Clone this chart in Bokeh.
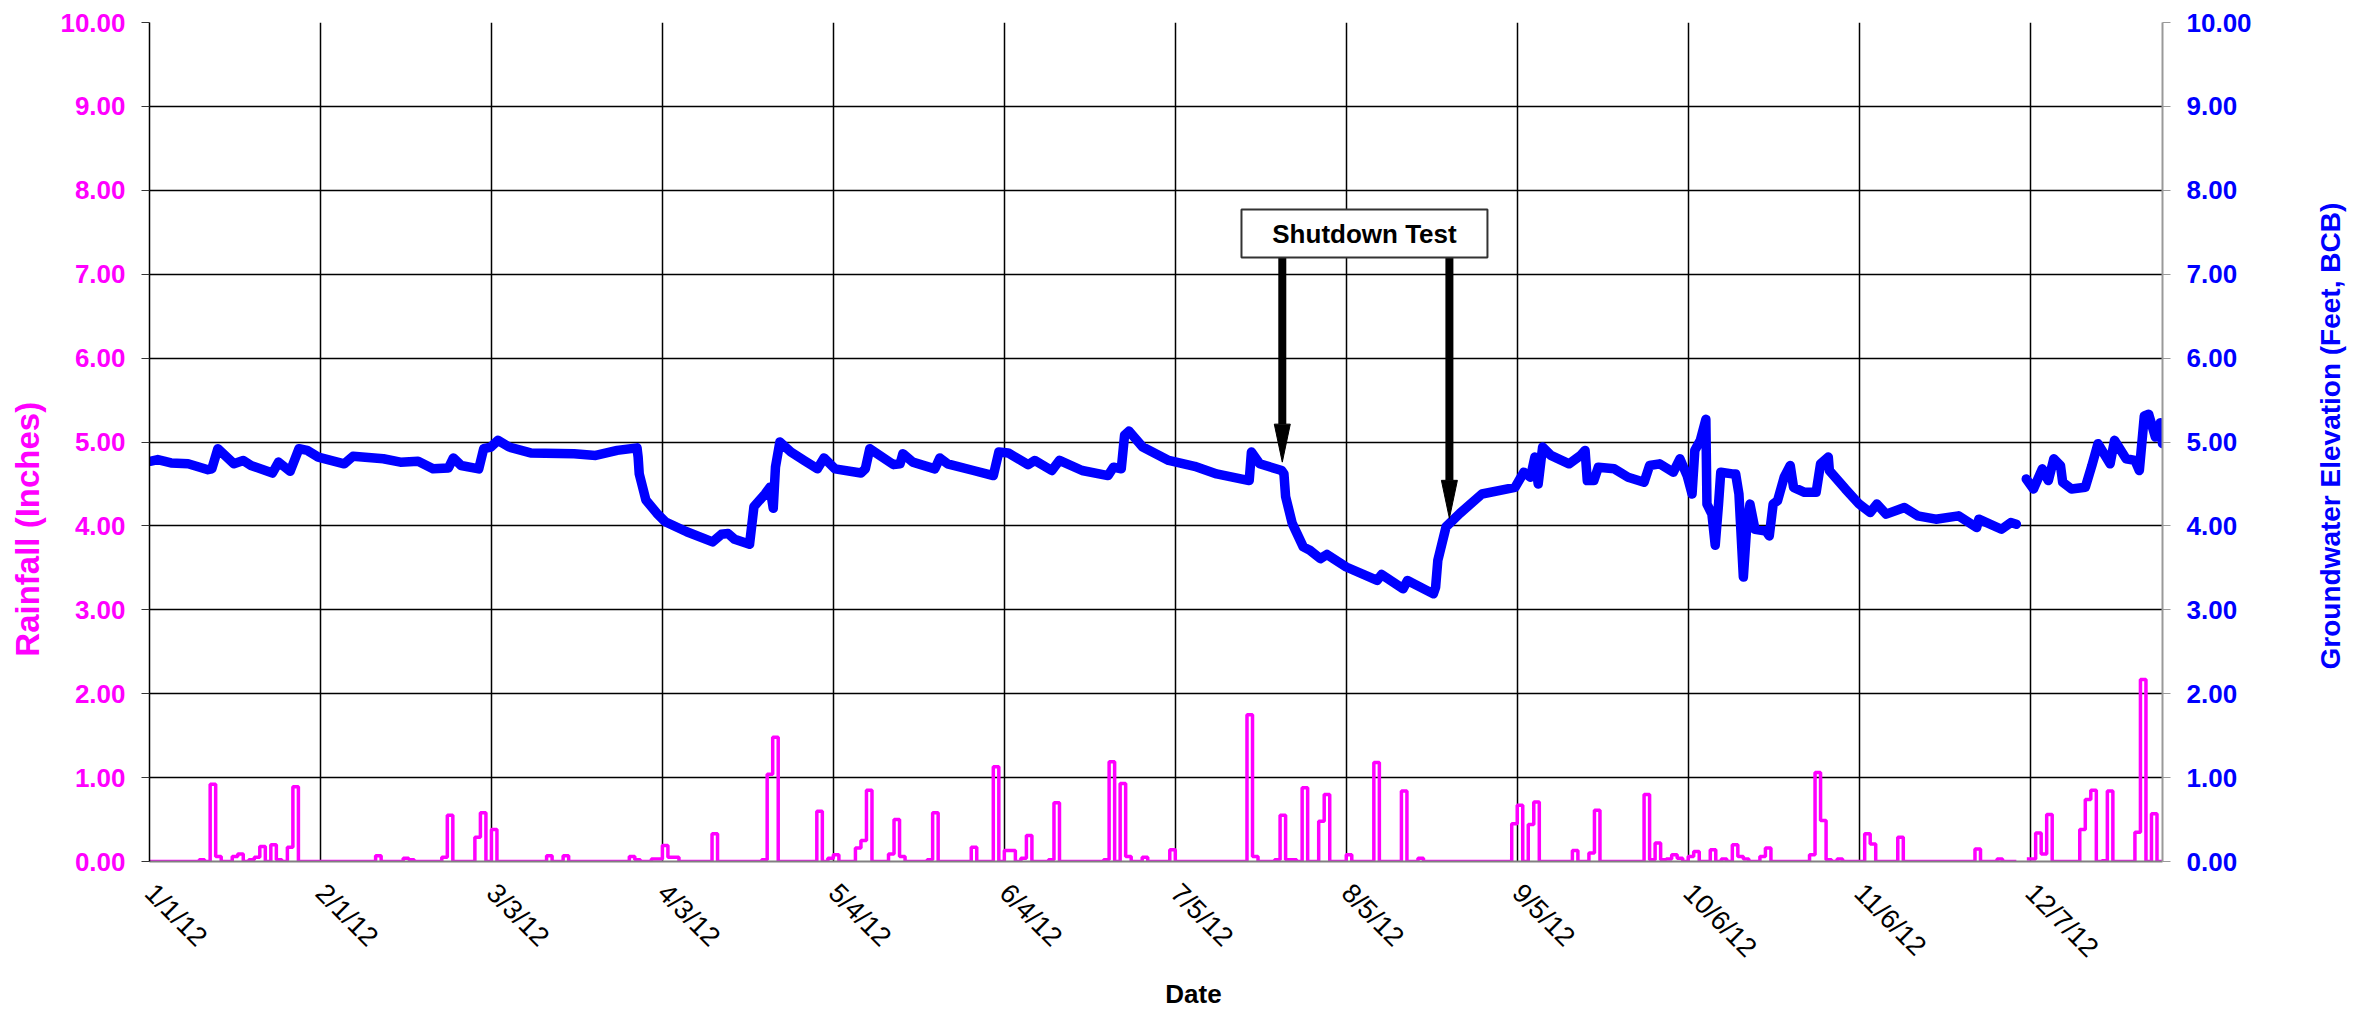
import math
from bokeh.plotting import figure
from bokeh.layouts import row, column
from bokeh.models import (Range1d, LinearAxis, FixedTicker, PrintfTickFormatter,
                          BoxAnnotation, Label)
from bokeh.embed import file_html
from bokeh.resources import INLINE

FONT = "Liberation Sans"

# ---- x axis ticks (days since 1/1/12) ----
tick_days = [0, 31, 62, 93, 124, 155, 186, 217, 248, 279, 310, 341]
tick_labels = ["1/1/12", "2/1/12", "3/3/12", "4/3/12", "5/4/12", "6/4/12",
               "7/5/12", "8/5/12", "9/5/12", "10/6/12", "11/6/12", "12/7/12"]
y_ticks = [0, 1, 2, 3, 4, 5, 6, 7, 8, 9, 10]

# ---- groundwater elevation (feet, BCB) ----
gw_day = [0.1, 1.5, 3.9, 7.0, 10.6, 11.3, 12.4, 15.3, 17.0, 18.4, 22.3, 23.4, 25.5,
          27.1, 28.6, 30.6, 35.3, 36.9, 42.4, 45.5, 48.7, 51.4, 54.2, 55.1, 56.5,
          59.7, 60.6, 61.9, 63.2, 65.2, 69.1, 77.0, 80.9, 84.8, 88.4, 88.6, 88.8,
          90.0, 92.0, 93.5, 97.4, 102.1, 103.7, 104.9, 106.1, 108.8, 109.6, 111.6,
          112.5, 113.1, 113.5, 114.3, 116.3, 118.7, 121.1, 122.3, 124.3, 129.0,
          129.8, 130.6, 134.9, 136.1, 136.6, 138.4, 142.4, 143.3, 144.7, 149.4,
          153.0, 154.0, 155.7, 159.3, 160.5, 163.6, 165.0, 169.1, 173.8, 174.8,
          176.2, 176.8, 177.6, 180.1, 184.8, 189.5, 193.5, 199.4, 199.8, 201.3,
          205.3, 205.7, 206.0, 207.2, 209.2, 210.4, 212.3, 213.5, 217.0, 222.6,
          223.4, 227.3, 228.1, 232.8, 233.2, 233.6, 235.1, 237.6, 241.6, 247.6,
          249.2, 250.4, 251.2, 251.8, 252.6, 254.1, 257.4, 259.5, 260.3, 260.7,
          261.9, 262.7, 265.6, 268.1, 271.0, 272.0, 273.8, 276.3, 277.5, 278.8,
          279.7, 280.2, 281.2, 282.2, 282.4, 283.3, 283.9, 284.5, 284.9, 287.0,
          287.6, 288.2, 289.0, 289.6, 290.2, 291.1, 293.1, 293.7, 294.4, 295.2,
          296.4, 297.5, 298.1, 300.1, 302.2, 303.0, 304.4, 304.6, 307.5, 310.0,
          312.0, 313.2, 314.9, 318.2, 320.6, 323.9, 328.0, 331.3, 331.7, 335.8,
          337.5, 338.5, 339.4, 340.3, 341.6, 343.2, 344.3, 345.3, 346.5, 346.9,
          348.5, 351.0, 352.2, 353.3, 355.5, 356.3, 358.4, 360.0, 360.8, 361.7,
          362.5, 363.7, 364.6, 365.0]
gw_ft = [4.77, 4.79, 4.75, 4.74, 4.67, 4.68, 4.92, 4.74, 4.78, 4.72, 4.63, 4.76, 4.65,
         4.92, 4.90, 4.82, 4.74, 4.83, 4.80, 4.76, 4.77, 4.68, 4.69, 4.81, 4.72,
         4.68, 4.92, 4.94, 5.02, 4.94, 4.87, 4.86, 4.84, 4.90, 4.93, 4.82, 4.62,
         4.31, 4.15, 4.05, 3.93, 3.81, 3.90, 3.91, 3.84, 3.78, 4.23, 4.38,
         4.46, 4.21, 4.70, 5.00, 4.88, 4.78, 4.68, 4.81, 4.68, 4.63,
         4.68, 4.92, 4.73, 4.74, 4.86, 4.76, 4.68, 4.81, 4.74, 4.66,
         4.60, 4.88, 4.87, 4.73, 4.78, 4.66, 4.78, 4.66, 4.60, 4.70,
         4.68, 5.08, 5.13, 4.94, 4.78, 4.71, 4.62, 4.54, 4.88, 4.74,
         4.66, 4.62, 4.35, 4.03, 3.75, 3.71, 3.61, 3.66, 3.51, 3.35,
         3.42, 3.25, 3.35, 3.19, 3.27, 3.59, 3.99, 4.15, 4.38, 4.46,
         4.64, 4.58, 4.82, 4.50, 4.94, 4.84, 4.74, 4.84, 4.90, 4.54,
         4.54, 4.70, 4.68, 4.58, 4.52, 4.72, 4.74, 4.64, 4.80, 4.60,
         4.38, 4.90, 5.02, 5.27, 4.26, 4.14, 3.77, 4.26, 4.64, 4.62,
         4.62, 4.38, 3.39, 3.98, 4.26, 3.96, 3.94, 3.88, 4.26, 4.30,
         4.58, 4.72, 4.46, 4.40, 4.40, 4.74, 4.82, 4.66, 4.44, 4.26,
         4.16, 4.26, 4.14, 4.22, 4.12, 4.08, 4.12, 3.98, 4.08, 3.96,
         4.04, 4.02, float("nan"), 4.56, 4.44, 4.68, 4.54, 4.80, 4.72, 4.52,
         4.44, 4.46, 4.72, 4.98, 4.74, 5.02, 4.80, 4.78, 4.66, 5.31,
         5.33, 5.06, 5.23, 4.98]

# ---- daily rainfall (inches); days not listed had none ----
rain_day = [9, 11, 12, 15, 16, 18, 19, 20, 22, 23, 25, 26, 41, 46, 47, 53, 54, 59,
            60, 62, 72, 75, 87, 88, 91, 92, 93, 94, 95, 102, 111, 112, 113, 121,
            123, 124, 128, 129, 130, 134, 135, 136, 141, 142, 149, 153, 155, 156,
            158, 159, 163, 164, 173, 174, 176, 177, 180, 185, 199, 200, 204, 205,
            206, 207, 209, 212, 213, 217, 222, 227, 230, 247, 248, 250, 251, 258,
            261, 262, 271, 272, 273, 274, 275, 276, 277, 279, 280, 283, 285, 287,
            288, 289, 292, 293, 301, 302, 303, 304, 306, 311, 312, 317, 331, 335,
            340, 341, 342, 343, 344, 350, 351, 352, 354, 355, 360, 361, 363]
rain_in = [0.02, 0.92, 0.06, 0.06, 0.09, 0.02, 0.05, 0.18, 0.20, 0.02, 0.17, 0.89,
           0.07, 0.04, 0.02, 0.05, 0.55, 0.29, 0.58, 0.38, 0.07, 0.07, 0.06, 0.02,
           0.03, 0.03, 0.19, 0.05, 0.05, 0.33, 0.02, 1.04, 1.48, 0.60, 0.04, 0.08,
           0.16, 0.25, 0.85, 0.09, 0.50, 0.06, 0.02, 0.58, 0.17, 1.13, 0.13, 0.13,
           0.04, 0.31, 0.02, 0.70, 0.02, 1.19, 0.93, 0.06, 0.05, 0.14, 1.75, 0.06,
           0.02, 0.55, 0.02, 0.02, 0.88, 0.48, 0.80, 0.08, 1.18, 0.84, 0.04, 0.45,
           0.67, 0.44, 0.71, 0.13, 0.10, 0.61, 0.80, 0.02, 0.22, 0.02, 0.03, 0.08,
           0.04, 0.06, 0.12, 0.14, 0.03, 0.20, 0.06, 0.03, 0.06, 0.16, 0.08, 1.06,
           0.49, 0.02, 0.03, 0.33, 0.21, 0.29, 0.15, 0.03, 0.03, 0.03, 0.34, 0.09,
           0.56, 0.38, 0.74, 0.85, 0.01, 0.84, 0.35, 2.17, 0.57]
rain_gap = [338.5, 340.4]   # no record between these days
year_end = 365

# ---- texts ----
left_title = "Rainfall (Inches)"
right_title = "Groundwater Elevation (Feet, BCB)"
x_title = "Date"
note_text = "Shutdown Test"

# ---- annotation geometry (data units) ----
note_box = [198.0, 242.6, 7.2, 7.77]       # left, right, bottom, top
arrow_day = [205.4, 235.7]
arrow_tip = [4.76, 4.09]

MAG = "#FF00FF"
BLU = "#0000FF"

TOP = 22
FRAME_W, FRAME_H = 2013, 839
BOTTOM = 116
H = TOP + FRAME_H + BOTTOM
STRIP_H = 1010 - H


def side_fig(w):
    f = figure(width=w, height=H, x_range=Range1d(0, 1), y_range=Range1d(0, 10),
               x_axis_type=None, y_axis_type=None, output_backend="svg",
               toolbar_location=None, min_border_left=0, min_border_right=0,
               min_border_top=TOP, min_border_bottom=BOTTOM, outline_line_color=None,
               background_fill_color="white", border_fill_color="white")
    return f


# ---- left title panel ----
qL = side_fig(54)
qL.add_layout(Label(x=0.5, y=3.96, text=left_title, angle=math.pi / 2,
                    text_align="center", text_baseline="middle", text_font=FONT,
                    text_font_size="33px", text_font_style="bold", text_color=MAG))

# ---- main chart ----
p = figure(frame_width=FRAME_W, frame_height=FRAME_H,
           x_range=Range1d(0, year_end), y_range=Range1d(0, 10),
           output_backend="svg", toolbar_location=None,
           min_border_left=95, min_border_right=130, min_border_top=TOP,
           min_border_bottom=BOTTOM,
           background_fill_color="white", border_fill_color="white", outline_line_color=None)

p.xgrid.ticker = FixedTicker(ticks=tick_days)
p.ygrid.ticker = FixedTicker(ticks=y_ticks)
for g in (p.xgrid[0], p.ygrid[0]):
    g.grid_line_color = "#000000"
    g.grid_line_width = 1.5

xa = p.xaxis[0]
xa.ticker = FixedTicker(ticks=tick_days)
xa.major_label_overrides = {d: s for d, s in zip(tick_days, tick_labels)}
xa.major_label_orientation = -math.pi / 4
xa.major_tick_out = 0
xa.major_tick_in = 0
xa.minor_tick_line_color = None
xa.axis_line_color = "#808080"
xa.axis_line_width = 2
xa.major_label_text_font = FONT
xa.major_label_text_font_size = "27px"
xa.major_label_text_color = "#000000"
xa.major_label_standoff = 27

ya = p.yaxis[0]
ya.ticker = FixedTicker(ticks=y_ticks)
ya.formatter = PrintfTickFormatter(format="%.2f")
ya.major_tick_out = 8
ya.major_tick_in = 0
ya.minor_tick_line_color = None
ya.major_tick_line_color = "#333333"
ya.axis_line_color = "#000000"
ya.axis_line_width = 1.5
ya.major_label_standoff = 16
ya.major_label_text_font = FONT
ya.major_label_text_font_size = "26px"
ya.major_label_text_font_style = "bold"
ya.major_label_text_color = MAG

ra = LinearAxis(ticker=FixedTicker(ticks=y_ticks), formatter=PrintfTickFormatter(format="%.2f"))
ra.major_tick_out = 8
ra.major_tick_in = 0
ra.minor_tick_line_color = None
ra.major_tick_line_color = "#999999"
ra.axis_line_color = "#999999"
ra.axis_line_width = 2
ra.major_label_standoff = 16
ra.major_label_text_font = FONT
ra.major_label_text_font_size = "26px"
ra.major_label_text_font_style = "bold"
ra.major_label_text_color = BLU
p.add_layout(ra, "right")

# rainfall step line (daily values), split at the missing-record gap
daily = [0.0] * (year_end + 1)
for d, v in zip(rain_day, rain_in):
    daily[d] = v
g0, g1 = rain_gap
days_a = [d for d in range(year_end + 1) if d < g0]
x_a = days_a + [g0]
y_a = [daily[d] for d in days_a] + [0.0]
days_b = [d for d in range(year_end + 1) if d > g1]
x_b = [g1] + days_b
y_b = [daily[int(g1)]] + [daily[d] for d in days_b[:-1]] + [0.0]
p.step(x_a, y_a, mode="after", line_color=MAG, line_width=3.5)
p.step(x_b, y_b, mode="after", line_color=MAG, line_width=3.5)

# groundwater line
p.line(gw_day, gw_ft, line_color=BLU, line_width=9.5, line_join="round", line_cap="round")

# annotation box, label and arrows
nl, nr, nb, nt = note_box
p.add_layout(BoxAnnotation(left=nl, right=nr, bottom=nb, top=nt, fill_color="white",
                           fill_alpha=1.0, line_color="#333333", line_width=2, line_alpha=1.0))
p.add_layout(Label(x=(nl + nr) / 2, y=(nb + nt) / 2, text=note_text, text_align="center",
                   text_baseline="middle", text_font=FONT, text_font_size="26px",
                   text_font_style="bold", text_color="#000000"))
head_len = 0.453
head_half = 1.45
p.segment(x0=arrow_day, y0=[nb] * len(arrow_day), x1=arrow_day,
          y1=[t + head_len for t in arrow_tip], line_color="#000000", line_width=8)
p.patches(xs=[[d - head_half, d + head_half, d] for d in arrow_day],
          ys=[[t + head_len, t + head_len, t] for t in arrow_tip],
          fill_color="#000000", line_color="#000000", line_width=1)

# ---- right title panel ----
qR = side_fig(76)
qR.add_layout(Label(x=0.5, y=5.07, text=right_title, angle=math.pi / 2,
                    text_align="center", text_baseline="middle", text_font=FONT,
                    text_font_size="28px", text_font_style="bold", text_color=BLU))

# ---- bottom title strip ----
total_w = 54 + 95 + FRAME_W + 130 + 76
qB = figure(width=total_w, height=STRIP_H, x_range=Range1d(0, year_end),
            y_range=Range1d(0, STRIP_H),
            x_axis_type=None, y_axis_type=None, output_backend="svg",
            toolbar_location=None, min_border_left=54 + 95,
            min_border_right=total_w - 54 - 95 - FRAME_W, min_border_top=0,
            min_border_bottom=0, outline_line_color=None,
            background_fill_color="white", border_fill_color="white")
qB.add_layout(Label(x=189.3, y=STRIP_H / 2, text=x_title, text_align="center",
                    text_baseline="middle", text_font=FONT, text_font_size="26px",
                    text_font_style="bold", text_color="#000000"))

layout = column(row(qL, p, qR), qB)
open("out.html", "w").write(file_html(layout, INLINE))
